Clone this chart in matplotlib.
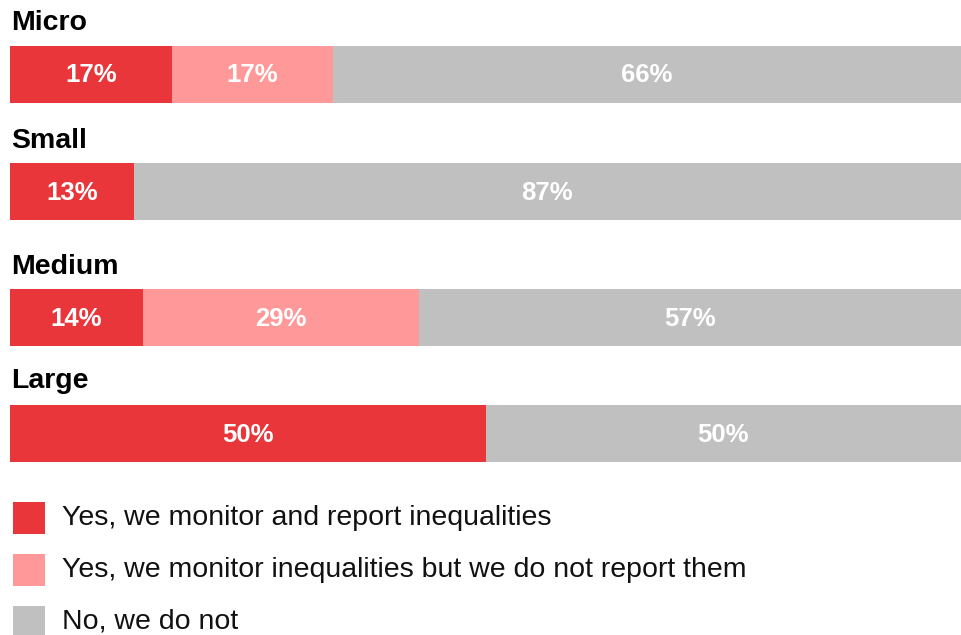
import matplotlib.pyplot as plt
from matplotlib.patches import Rectangle

plt.rcParams['font.family'] = ['Liberation Sans', 'DejaVu Sans']

# Share of companies per size class (percent)
sizes = ["Micro", "Small", "Medium", "Large"]
monitor_report = [17, 13, 14, 50]
monitor_only = [17, 0, 29, 0]
no_monitor = [66, 87, 57, 50]

series_labels = [
    "Yes, we monitor and report inequalities",
    "Yes, we monitor inequalities but we do not report them",
    "No, we do not",
]
colors = ["#E8363A", "#FF9999", "#C0C0C0"]

W, H = 961, 635
fig = plt.figure(figsize=(W / 100, H / 100), dpi=100)

# bar area: x in percent, y in pixel rows (top-down)
ax = fig.add_axes([10 / W, 0, 951 / W, 1])
ax.set_xlim(0, 100)
ax.set_ylim(H, 0)
ax.axis("off")

row_centers = [74.5, 191.5, 317.5, 433.5]
label_offset = [52, 50, 51, 52]
bar_h = 57

for i, name in enumerate(sizes):
    yc = row_centers[i]
    left = 0
    for vals, col in zip([monitor_report, monitor_only, no_monitor], colors):
        v = vals[i]
        if v == 0:
            continue
        ax.barh(yc, v, left=left, height=bar_h, color=col, linewidth=0)
        ax.text(left + v / 2, yc + 1, f"{v}%", ha="center", va="center",
                color="white", fontsize=18.5, fontweight="bold")
        left += v
    ax.text(0.1, yc - label_offset[i], name, ha="left", va="center",
            fontsize=20.5, fontweight="bold", color="black")

# legend
for j, (lab, col) in enumerate(zip(series_labels, colors)):
    top = 502 + j * 52
    fig.add_artist(Rectangle((13 / W, 1 - (top + 32) / H), 32 / W, 32 / H,
                             transform=fig.transFigure, color=col, lw=0))
    fig.text(62 / W, 1 - (top + 16) / H, lab, ha="left", va="center",
             fontsize=20.5, color="#111111")

fig.savefig("out.png", dpi=100)
